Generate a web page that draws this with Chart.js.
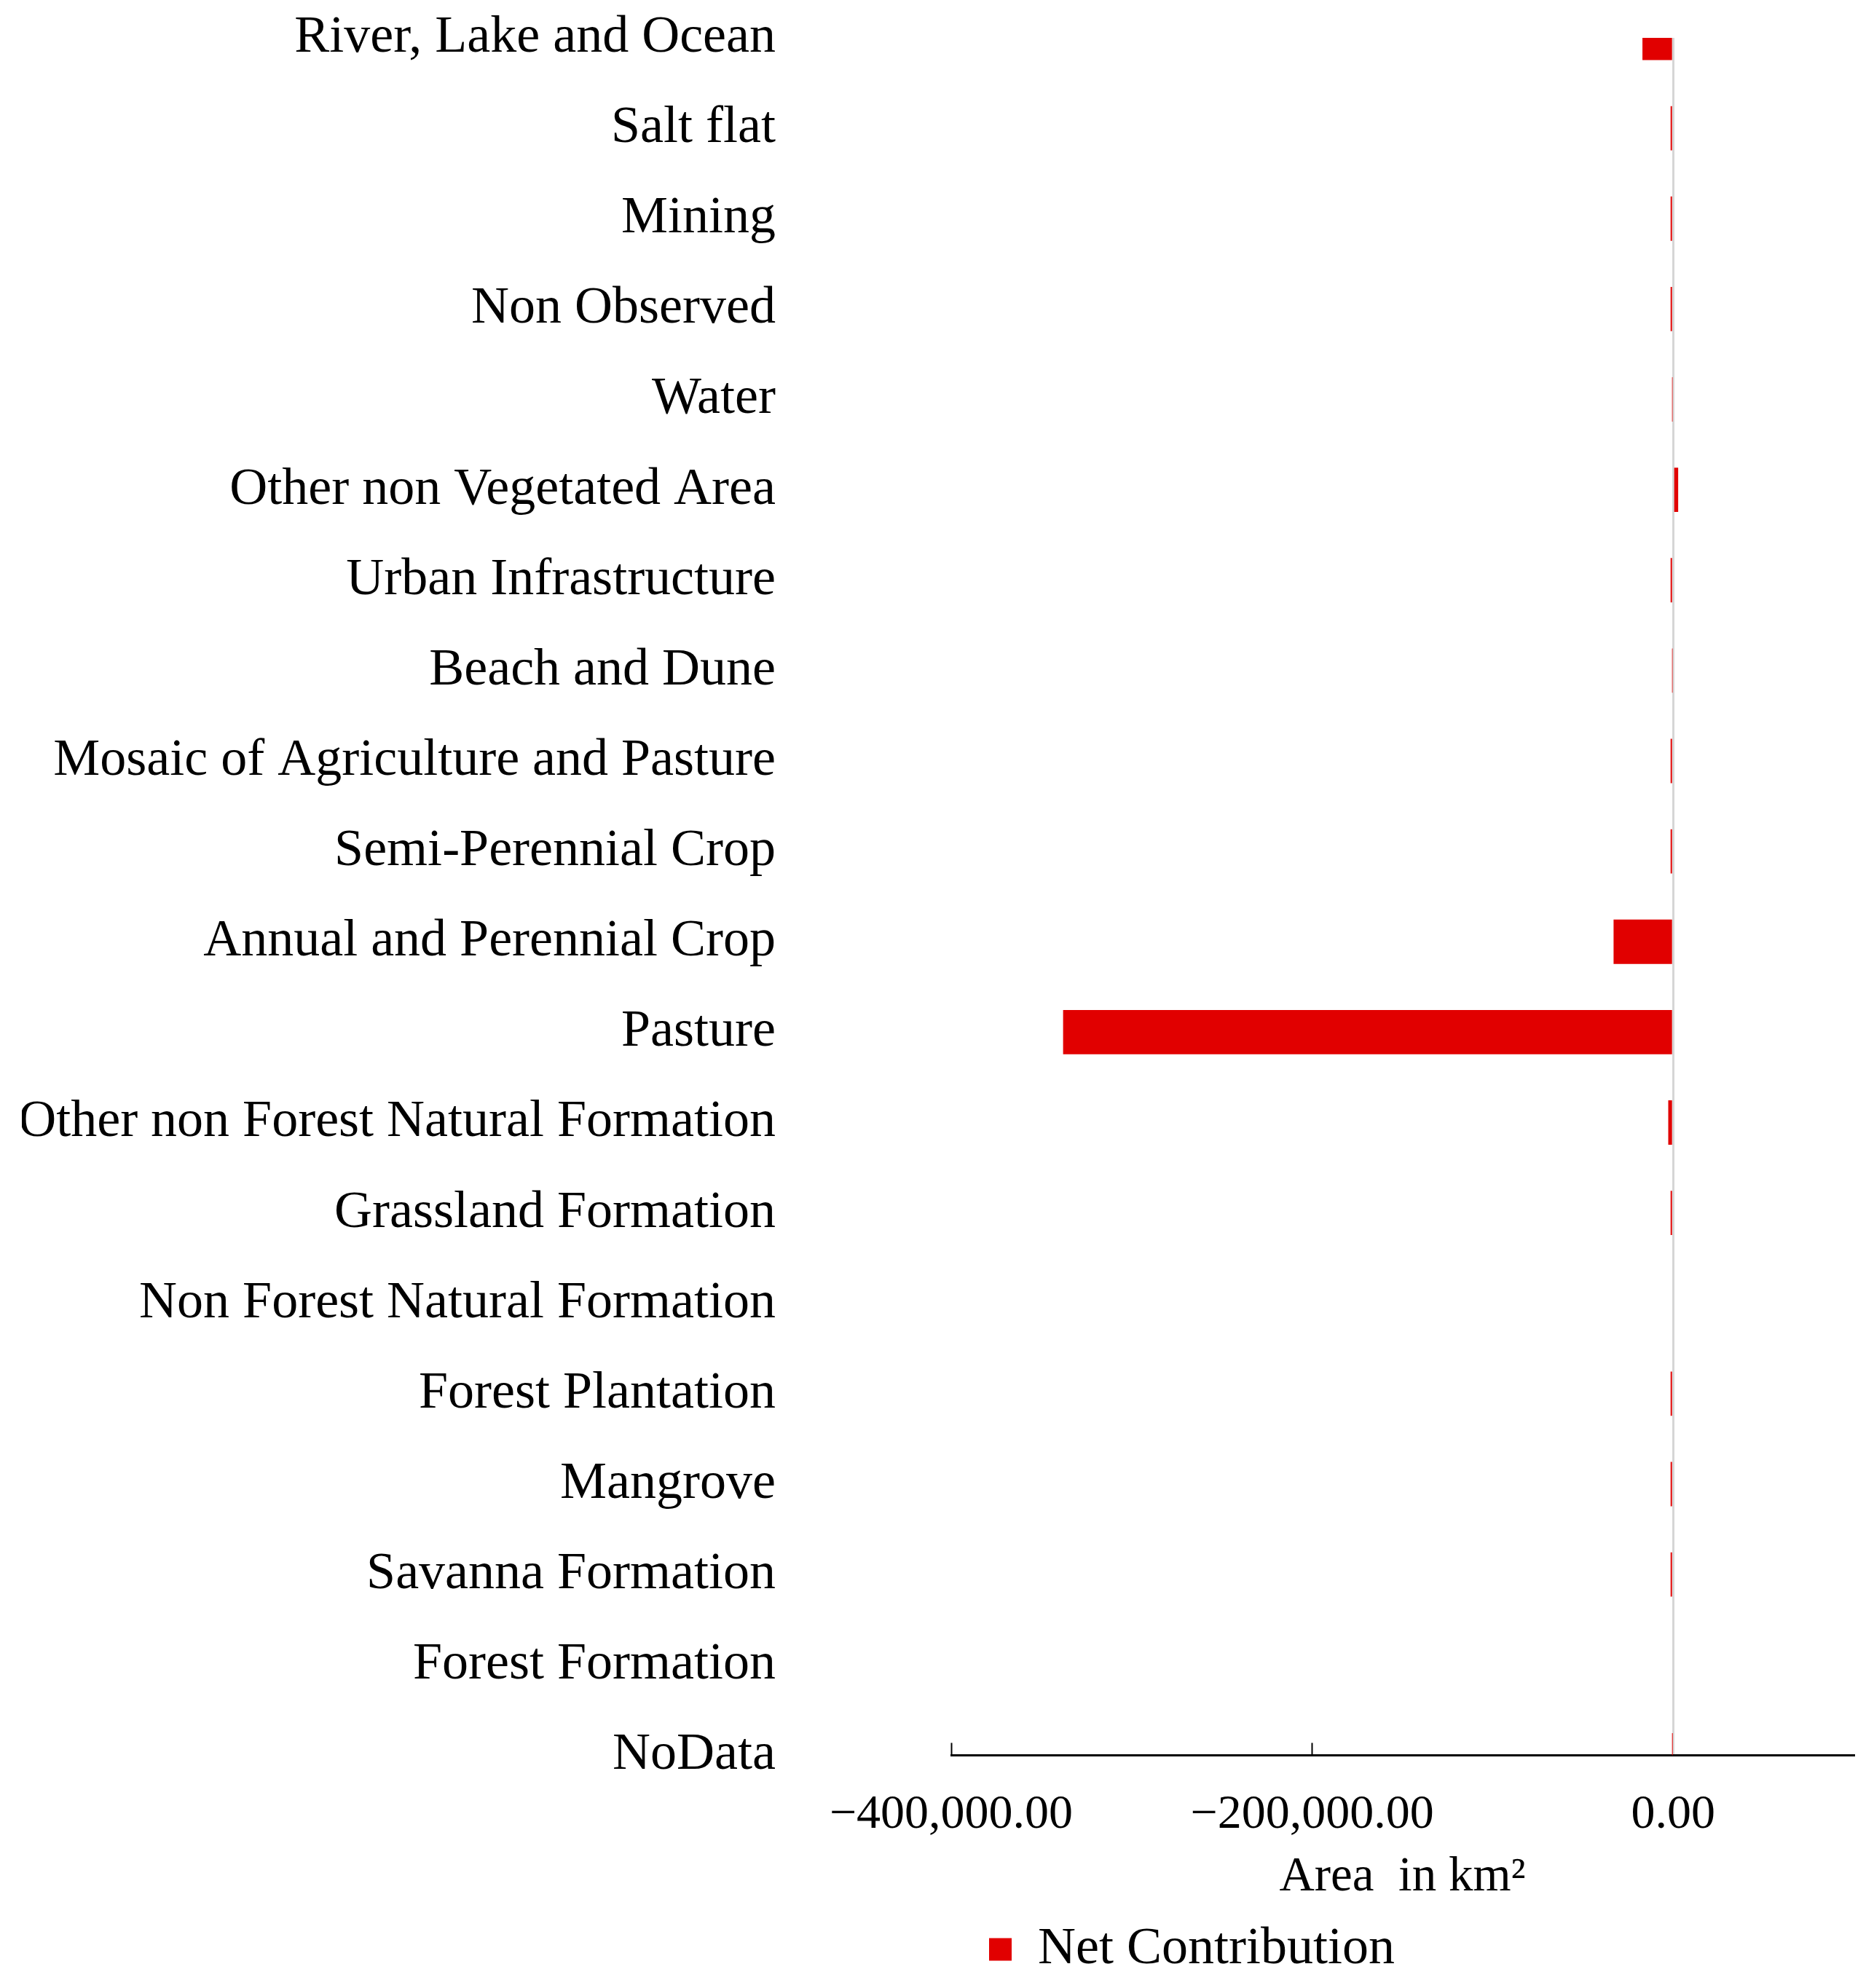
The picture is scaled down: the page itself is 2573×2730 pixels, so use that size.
<!DOCTYPE html>
<html>
<head>
<meta charset="utf-8">
<script src="https://cdn.jsdelivr.net/npm/chart.js@4/dist/chart.umd.min.js"></script>
<style>
  html, body { margin: 0; padding: 0; background: #fff; }
  #wrap { width: 2573px; height: 2730px; position: relative; }
</style>
</head>
<body>
<div id="wrap"><canvas id="chart"></canvas></div>
<script>
// ---------- DATA ----------
const CATEGORIES = [
  "River, Lake and Ocean",
  "Salt flat",
  "Mining",
  "Non Observed",
  "Water",
  "Other non Vegetated Area",
  "Urban Infrastructure",
  "Beach and Dune",
  "Mosaic of Agriculture and Pasture",
  "Semi-Perennial Crop",
  "Annual and Perennial Crop",
  "Pasture",
  "Other non Forest Natural Formation",
  "Grassland Formation",
  "Non Forest Natural Formation",
  "Forest Plantation",
  "Mangrove",
  "Savanna Formation",
  "Forest Formation",
  "NoData",
];

// net contribution, km2
const NET_CONTRIBUTION = [
  -17000, -1400, -1400, -1400, -300, 2800, -1400, -300, -1400, -1400,
  -33000, -338000, -2700, -1400, 0, -1400, -1400, -1400, 0, -200,
];

const X_TICKS = [-400000, -200000, 0];
const X_MIN = -400000;
const X_MAX = 100000;

const SERIES_LABEL = "Net Contribution";
const X_TITLE = "Area  in km\u00B2";

// ---------- HELPERS ----------
function fmt(v) {
  const s = Math.abs(v).toLocaleString("en-US", {
    minimumFractionDigits: 2,
    maximumFractionDigits: 2,
  });
  return (v < 0 ? "\u2212" : "") + s;
}

Chart.defaults.font.family = "'Liberation Serif', 'Times New Roman', serif";
Chart.defaults.color = "#000";

new Chart(document.getElementById("chart"), {
  type: "bar",
  data: {
    labels: CATEGORIES,
    datasets: [
      {
        label: SERIES_LABEL,
        data: NET_CONTRIBUTION,
        backgroundColor: "#e10000",
        borderWidth: 0,
        barPercentage: 0.49,
        categoryPercentage: 1,
        clip: 0,
      },
    ],
  },
  options: {
    indexAxis: "y",
    responsive: true,
    maintainAspectRatio: false,
    animation: false,
    layout: { padding: { top: 52, left: 30, right: 28, bottom: 7 } },
    plugins: {
      tooltip: { enabled: false },
      legend: {
        position: "bottom",
        align: "start",
        fullSize: false,
        labels: {
          boxWidth: 31,
          boxHeight: 31,
          padding: 52,
          color: "#000",
          font: { size: 72 },
        },
      },
    },
    scales: {
      y: {
        type: "category",
        offset: false,
        grid: { display: false, drawTicks: false },
        border: { display: false },
        ticks: { autoSkip: false, padding: 241, font: { size: 72 }, color: "#000" },
        afterFit: (s) => {
          s.width = 1276;
          s.paddingTop = 0;
          s.paddingBottom = 0;
        },
      },
      x: {
        type: "linear",
        min: X_MIN,
        max: X_MAX,
        z: 1,
        afterBuildTicks: (s) => { s.ticks = X_TICKS.map((v) => ({ value: v })); },
        grid: {
          drawTicks: true,
          tickLength: -17,
          lineWidth: 3,
          color: (c) => (c.tick && c.tick.value === 0 ? "#d6d6d6" : "rgba(0,0,0,0)"),
          tickColor: (c) => (c.tick && c.tick.value === 0 ? "rgba(0,0,0,0)" : "#000"),
          tickWidth: 2,
        },
        border: { display: true, color: "#000", width: 3 },
        ticks: {
          padding: 60,
          maxRotation: 0,
          font: { size: 66 },
          color: "#000",
          callback: (v) => fmt(v),
        },
        title: {
          display: true,
          text: X_TITLE,
          color: "#000",
          font: { size: 67 },
          padding: { top: -54, bottom: -30 },
        },
      },
    },
  },
});
</script>
</body>
</html>
